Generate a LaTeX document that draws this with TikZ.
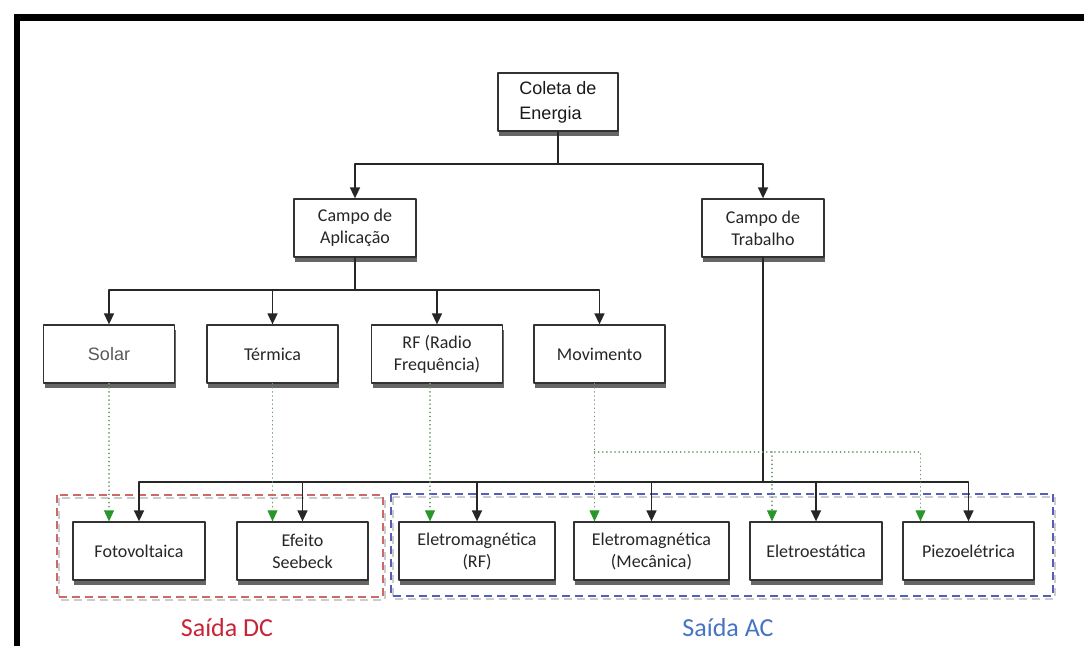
\documentclass[tikz,border=0pt]{standalone}
\usepackage{fontspec}
\setmainfont{Carlito}
\newfontfamily\arialfont{Liberation Sans}
\usetikzlibrary{arrows.meta,shadows}

\definecolor{borda}{RGB}{50,50,50}
\definecolor{verdeseta}{RGB}{40,150,40}
\definecolor{verdelinha}{RGB}{110,155,110}
\definecolor{vermelhodc}{RGB}{200,35,55}
\definecolor{azulac}{RGB}{70,115,195}
\definecolor{tracodc}{RGB}{205,105,105}
\definecolor{tracoac}{RGB}{85,95,185}

\begin{document}
\begin{tikzpicture}[
    x=1pt, y=-1pt,
    line cap=round,
    line join=round,
    caixa/.style={draw=borda, line width=1.3pt, fill=white,
        minimum height=58pt, inner sep=2pt, align=center,
        text=black!85, font=\fontsize{18}{22}\selectfont,
        drop shadow={shadow xshift=1pt, shadow yshift=-4.5pt,
            opacity=0.8, fill=black!75}},
    liga/.style={draw=black!85, line width=1.5pt},
    seta/.style={liga, -{Triangle[length=11pt,width=10pt]}},
    pontilhado/.style={draw=verdelinha, line width=1.7pt,
        dash pattern=on 0.1pt off 4pt},
    setaverde/.style={pontilhado,
        -{Triangle[length=11pt,width=10pt,fill=verdeseta,color=verdeseta,line width=0.8pt]}},
    grupo/.style={line width=1.6pt, dash pattern=on 8pt off 5pt, line cap=butt}
]
\useasboundingbox (0,0) rectangle (1084,646);

% Moldura
\fill[black] (14,14) rectangle (1084,21);
\fill[black] (14,14) rectangle (20,646);

% Grupos de saida (sombra clara e tracejado)
\draw[grupo, black!20] (59,498) rectangle (385,600);
\draw[grupo, tracodc] (57,495) rectangle (383,597);
\draw[grupo, black!20] (393,497) rectangle (1055,599);
\draw[grupo, tracoac] (391,494) rectangle (1053,596);

% Caixas
\node[caixa, align=left, minimum width=120pt, text=black!90,
    font=\arialfont\fontsize{18}{25}\selectfont] (coleta) at (558,102) {Coleta de\\Energia};

\node[caixa, minimum width=122pt] (aplic) at (355,228) {Campo de\\Aplicação};
\node[caixa, minimum width=122pt] (trab) at (763,228) {Campo de\\Trabalho};

\node[caixa, minimum width=131pt, text=black!65,
    font=\arialfont\fontsize{18}{22}\selectfont] (solar) at (109,354) {Solar};
\node[caixa, minimum width=131pt] (termica) at (272.5,354) {Térmica};
\node[caixa, minimum width=131pt] (rf) at (437,354) {RF (Radio\\Frequência)};
\node[caixa, minimum width=131pt] (mov) at (599.5,354) {Movimento};

\node[caixa, minimum width=132pt] (foto) at (139,551) {Fotovoltaica};
\node[caixa, minimum width=131pt] (seebeck) at (302.5,551) {Efeito\\Seebeck};
\node[caixa, minimum width=156pt] (emrf) at (477,551) {Eletromagnética\\(RF)};
\node[caixa, minimum width=155pt] (emmec) at (651.5,551) {Eletromagnética\\(Mecânica)};
\node[caixa, minimum width=132pt] (eletroest) at (816,551) {Eletroestática};
\node[caixa, minimum width=131pt] (piezo) at (968.5,551) {Piezoelétrica};

% Ligacoes
\draw[liga] (coleta.south) -- (coleta.south |- 0,164) coordinate (b1);
\draw[seta] (b1) -| (aplic.north);
\draw[seta] (b1) -| (trab.north);

\draw[liga] (aplic.south) -- (aplic.south |- 0,290) coordinate (b2);
\foreach \n in {solar,termica,rf,mov}
    \draw[seta] (b2) -| (\n.north);

\draw[liga] (trab.south) -- (trab.south |- 0,482) coordinate (b3);
\foreach \n in {foto,seebeck,emrf,emmec,eletroest,piezo}
    \draw[seta] (b3) -| (\n.north);

% Ligacoes pontilhadas
\draw[setaverde] (solar.south) -- (solar.south |- foto.north);
\draw[setaverde] (termica.south) -- (termica.south |- seebeck.north);
\draw[setaverde] ([xshift=-7pt]rf.south) -- ([xshift=-7pt]rf.south |- emrf.north);
\draw[setaverde] ([xshift=-5pt]mov.south) -- ([xshift=-5pt]mov.south |- emmec.north);
\coordinate (d1) at ([xshift=-5pt]mov.south |- 0,452);
\draw[setaverde] (d1) -| ([xshift=-48pt]piezo.north);
\draw[setaverde] ([xshift=-44pt]eletroest.north |- d1) -- ([xshift=-44pt]eletroest.north);

% Rotulos
\node[text=vermelhodc, font=\fontsize{26}{30}\selectfont] (saidadc) at (227,628) {Saída DC};
\node[text=azulac, font=\fontsize{26}{30}\selectfont] (saidaac) at (728,628) {Saída AC};

\end{tikzpicture}
\end{document}
